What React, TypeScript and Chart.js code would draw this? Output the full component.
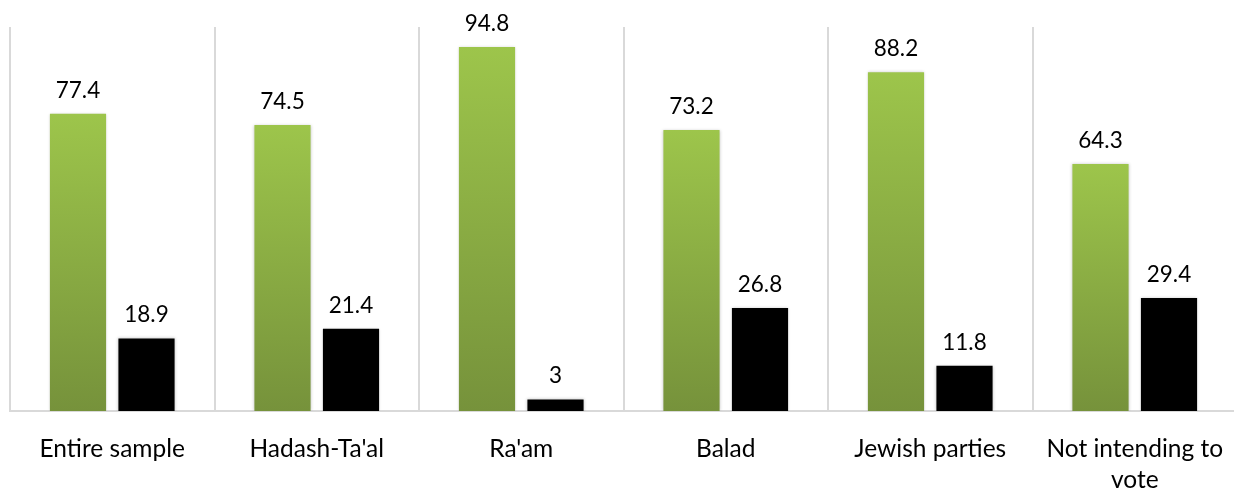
import React, { useEffect, useRef } from "react";
import { Chart, registerables } from "chart.js";

Chart.register(...registerables);

const categories: (string | string[])[] = [
  "Entire sample",
  "Hadash-Ta'al",
  "Ra'am",
  "Balad",
  "Jewish parties",
  ["Not intending to", "vote"],
];
const greenValues = [77.4, 74.5, 94.8, 73.2, 88.2, 64.3];
const blackValues = [18.9, 21.4, 3, 26.8, 11.8, 29.4];
const yMin = 0;
const yMax = 100;

const FONT = "Lato, 'Open Sans', sans-serif";

const valueLabels = {
  id: "valueLabels",
  afterDatasetsDraw(chart: any) {
    const ctx = chart.ctx;
    ctx.save();
    ctx.font = `22.5px ${FONT}`;
    ctx.fillStyle = "#000000";
    ctx.textAlign = "center";
    ctx.textBaseline = "alphabetic";
    chart.data.datasets.forEach((ds: any, di: number) => {
      const meta = chart.getDatasetMeta(di);
      meta.data.forEach((el: any, i: number) => {
        ctx.fillText(String(ds.data[i]), el.x, el.y - 16);
      });
    });
    ctx.restore();
  },
};

const barShadow = {
  id: "barShadow",
  beforeDatasetsDraw(chart: any) {
    const ctx = chart.ctx;
    ctx.save();
    ctx.shadowColor = "rgba(0,0,0,0.22)";
    ctx.shadowBlur = 3;
    ctx.shadowOffsetX = 0;
    ctx.shadowOffsetY = 0;
  },
  afterDatasetsDraw(chart: any) {
    chart.ctx.restore();
  },
};

export default function App() {
  const ref = useRef<HTMLCanvasElement>(null);
  useEffect(() => {
    if (!ref.current) return;
    const chart = new Chart(ref.current, {
      type: "bar",
      data: {
        labels: categories as any,
        datasets: [
          {
            data: greenValues,
            backgroundColor: (c: any) => {
              const ch = c.chart;
              const ys = ch.scales && ch.scales.y;
              if (!ys || c.raw == null) return "#8db144";
              const top = ys.getPixelForValue(c.raw);
              const base = ys.getPixelForValue(0);
              if (!isFinite(top) || !isFinite(base) || top === base) return "#8db144";
              const g = ch.ctx.createLinearGradient(0, top, 0, base);
              g.addColorStop(0, "#9dc54b");
              g.addColorStop(1, "#76923b");
              return g;
            },
            borderWidth: 0,
          },
          {
            data: blackValues,
            backgroundColor: "#000000",
            borderWidth: 0,
          },
        ],
      },
      options: {
        responsive: false,
        animation: false,
        devicePixelRatio: 1,
        layout: { padding: { left: 10, right: 3, top: 27, bottom: 0 } },
        datasets: {
          bar: { categoryPercentage: 0.67, barPercentage: 0.82 },
        },
        plugins: {
          legend: { display: false },
          tooltip: { enabled: false },
        },
        scales: {
          x: {
            grid: {
              color: "#d9d9d9",
              lineWidth: 2,
              drawTicks: false,
              offset: true,
            },
            border: { color: "#d9d9d9", width: 2 },
            ticks: {
              color: "#000000",
              padding: 23,
              maxRotation: 0,
              autoSkip: false,
              font: { family: FONT, size: 24.5, lineHeight: 1.265 },
            },
            afterFit: (scale: any) => {
              scale.height = 78;
              scale.paddingLeft = 0;
              scale.paddingRight = 0;
            },
          },
          y: {
            display: false,
            min: yMin,
            max: yMax,
          },
        },
      },
      plugins: [barShadow, valueLabels],
    });
    return () => chart.destroy();
  }, []);
  return (
    <div
      style={{
        position: "fixed",
        left: 0,
        top: 0,
        width: 1234,
        height: 489,
        overflow: "hidden",
        background: "#ffffff",
      }}
    >
      <canvas ref={ref} width={1240} height={489} style={{ display: "block" }} />
    </div>
  );
}
